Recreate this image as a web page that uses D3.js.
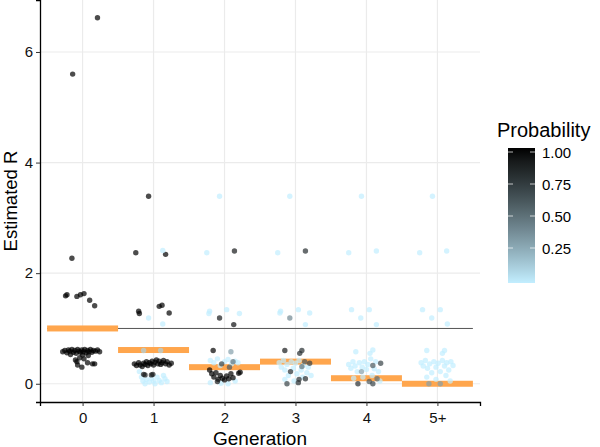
<!DOCTYPE html>
<html>
<head>
<meta charset="utf-8">
<script src="https://cdn.jsdelivr.net/npm/d3@7"></script>
<style>
  body { margin: 0; background: #fff; }
  svg { font-family: "Liberation Sans", Arial, sans-serif; }
</style>
</head>
<body>
<svg width="600" height="447"></svg>
<script>
// categories and summary values
const generations = ['0', '1', '2', '3', '4', '5+'];
const medianR = [1.0, 0.61, 0.30, 0.40, 0.10, 0.0];
const yTicks = [0, 2, 4, 6];
const legendTicks = [0.25, 0.5, 0.75, 1.0];

// points per generation: [jitter, R, probability]
const gen0Points = [
  [0.21,6.62,1],[-0.14,5.60,1],[-0.15,2.27,1],[-0.24,1.59,1],[-0.22,1.61,1],[-0.08,1.58,1],
  [-0.03,1.61,1],[0.02,1.63,1],[0.10,1.51,1],[0.17,1.41,1],
  [-0.28,0.58,1],[-0.25,0.60,1],[-0.22,0.56,1],[-0.20,0.61,1],[-0.18,0.59,1],[-0.15,0.62,1],
  [-0.13,0.57,1],[-0.11,0.60,1],[-0.09,0.55,1],[-0.07,0.62,1],[-0.05,0.59,1],[-0.03,0.57,1],
  [-0.01,0.61,1],[0.01,0.58,1],[0.03,0.62,1],[0.05,0.56,1],[0.07,0.60,1],[0.09,0.58,1],
  [0.11,0.62,1],[0.13,0.57,1],[0.15,0.60,1],[0.18,0.59,1],[0.21,0.61,1],[0.24,0.58,1],
  [-0.17,0.53,1],[0.00,0.52,1],[0.08,0.51,1],
  [-0.10,0.43,1],[-0.08,0.40,1],[-0.07,0.34,1],[-0.01,0.30,1],[0.07,0.38,1],[0.14,0.36,1],
  [0.17,0.36,1],[-0.04,0.47,1],[0.02,0.45,1]
];
const gen1Points = [
  [-0.07,3.39,1],[-0.25,2.37,1],[0.17,2.34,1],[0.13,2.41,0],[-0.21,1.31,1],[-0.20,1.27,1],
  [0.08,1.40,1],[0.12,1.42,1],[0.22,1.28,1],[-0.07,1.19,0],[0.13,1.08,0],[-0.14,0.60,0.1],[0.10,0.60,0.1],
  [-0.20,0.22,0],[-0.17,0.12,0],[-0.15,0.05,0],[-0.12,0.00,0],[-0.10,0.08,0],[-0.06,0.03,0],
  [-0.03,0.10,0],[0.00,0.05,0],[0.02,0.00,0],[0.05,0.12,0],[0.08,0.06,0],[0.11,0.02,0],
  [0.14,0.15,0],[0.16,0.09,0],[0.19,0.04,0],
  [-0.27,0.36,1],[-0.24,0.33,1],[-0.21,0.38,1],[-0.19,0.34,1],[-0.16,0.31,1],[-0.14,0.37,1],
  [-0.12,0.35,1],[-0.10,0.40,1],[-0.08,0.33,1],[-0.06,0.38,1],[-0.04,0.36,1],[-0.02,0.41,1],
  [0.00,0.34,1],[0.02,0.39,1],[0.04,0.43,1],[0.06,0.36,1],[0.08,0.41,1],[0.10,0.35,1],
  [0.12,0.38,1],[0.14,0.42,1],[0.17,0.36,1],[0.19,0.40,1],[0.22,0.34,1],[0.25,0.37,1],
  [-0.14,0.17,0.9],[-0.12,0.16,0.9],[-0.03,0.16,0.9],[-0.01,0.17,0.9]
];
const gen2Points = [
  [-0.07,3.39,0],[-0.25,2.37,0],[0.14,2.40,0.9],[-0.21,1.31,0],[-0.22,1.27,0],[0.03,1.34,0],
  [0.21,1.27,0],[-0.07,1.19,0.9],[0.13,1.07,0.95],[-0.16,0.60,1],[0.09,0.58,0.3],
  [-0.20,0.42,0],[-0.15,0.38,0],[-0.10,0.45,0],[-0.06,0.33,0],[0.00,0.40,0],[0.05,0.44,0],
  [0.10,0.36,0],[0.15,0.41,0],[0.19,0.38,0],[-0.20,0.02,0],[0.05,0.00,0],[0.15,0.05,0],[-0.05,0.01,0],
  [-0.04,0.36,0.7],[0.12,0.40,0.5],[0.07,0.30,0.6],
  [-0.21,0.25,1],[-0.18,0.18,1],[-0.15,0.12,1],[-0.12,0.20,1],[-0.09,0.08,1],[-0.06,0.15,1],
  [-0.03,0.10,1],[0.00,0.07,1],[0.03,0.14,1],[0.06,0.09,1],[0.09,0.18,1],[0.12,0.11,1],
  [0.20,0.19,1],[0.22,0.21,1],[-0.10,0.04,0.9]
];
const gen3Points = [
  [-0.08,3.39,0],[-0.25,2.37,0],[0.14,2.40,0.8],[-0.21,1.31,0],[-0.22,1.28,0],[0.04,1.34,0],
  [0.20,1.28,0],[-0.08,1.19,0.4],[0.14,1.07,0],
  [-0.23,0.38,0],[-0.20,0.30,0],[-0.17,0.42,0],[-0.15,0.25,0],[-0.12,0.35,0],[-0.10,0.15,0],
  [-0.06,0.40,0],[-0.03,0.28,0],[0.00,0.37,0],[0.02,0.18,0],[0.05,0.42,0],[0.08,0.25,0],
  [0.11,0.33,0],[0.16,0.20,0],[0.18,0.30,0],[-0.15,0.08,0],[-0.02,0.05,0],[0.10,0.12,0],[0.22,0.15,0],
  [-0.15,0.60,0.9],[0.06,0.55,0.8],[0.09,0.60,0.8],[0.13,0.40,0.6],[0.20,0.37,0.7],[0.09,0.31,0.5],
  [-0.07,0.22,0.8],[0.05,0.08,0.8],[0.14,0.09,0.8],[-0.12,0.00,0.7],[0.04,0.02,0.8]
];
const gen4Points = [
  [-0.07,3.39,0],[-0.25,2.37,0],[0.14,2.40,0],[-0.21,1.34,0],[0.04,1.34,0],[-0.08,1.19,0],
  [0.14,1.07,0],[-0.15,0.58,0],[0.05,0.55,0],[0.09,0.61,0],
  [-0.25,0.35,0],[-0.22,0.28,0],[-0.19,0.40,0],[-0.16,0.32,0],[-0.13,0.22,0],[-0.10,0.38,0],
  [-0.06,0.30,0],[-0.03,0.40,0],[0.00,0.26,0],[0.02,0.35,0],[0.06,0.45,0],[0.11,0.27,0],
  [0.13,0.40,0],[0.17,0.22,0],[-0.18,0.10,0],[-0.05,0.12,0],[0.08,0.15,0],[0.19,0.05,0],
  [0.20,0.37,0.7],[0.09,0.33,0.6],[-0.07,0.22,0.3],[-0.12,0.00,0.8],[0.04,0.04,0.6],
  [0.09,0.00,0.7],[0.15,0.09,0.5]
];
const gen5Points = [
  [-0.07,3.39,0],[-0.25,2.37,0],[0.13,2.40,0],[-0.21,1.34,0],[0.04,1.34,0],[-0.08,1.19,0],
  [0.14,1.08,0],[-0.15,0.60,0],[0.07,0.55,0],[0.10,0.60,0],
  [-0.23,0.38,0],[-0.20,0.32,0],[-0.17,0.42,0],[-0.14,0.28,0],[-0.11,0.36,0],[-0.08,0.20,0],
  [-0.05,0.40,0],[-0.02,0.30,0],[0.01,0.37,0],[0.04,0.22,0],[0.07,0.42,0],[0.10,0.32,0],
  [0.13,0.38,0],[0.16,0.25,0],[0.19,0.40,0],[0.22,0.33,0],[-0.15,0.12,0],[-0.02,0.08,0],
  [0.12,0.15,0],[0.18,0.05,0],
  [-0.12,0.00,0.3],[0.04,0.00,0.3]
];
const pointsByGeneration = [gen0Points, gen1Points, gen2Points, gen3Points, gen4Points, gen5Points];

const svg = d3.select('svg');
const margin = { top: 0, right: 120, bottom: 45, left: 40 };
const width = +svg.attr('width');
const height = +svg.attr('height');
const innerWidth = width - margin.left - margin.right;
const innerHeight = height - margin.top - margin.bottom;

const g = svg.append('g').attr('transform', `translate(${margin.left},${margin.top})`);

// ggplot style discrete axis: categories at 0..5, expanded by 0.6
const xScale = d3.scaleLinear().domain([-0.6, 5.6]).range([0, innerWidth]);
const yScale = d3.scaleLinear().domain([-0.33, 6.94]).range([innerHeight, 0]);
const colorScale = d3.scaleLinear().domain([0, 1])
  .range(['#c2eeff', '#000000']).interpolate(d3.interpolateLab);

// grid
g.selectAll('.gx').data(generations).enter().append('line')
  .attr('x1', (d, i) => xScale(i)).attr('x2', (d, i) => xScale(i))
  .attr('y1', 0).attr('y2', innerHeight)
  .attr('stroke', '#ebebeb').attr('stroke-width', 1.2);
g.selectAll('.gy').data(yTicks).enter().append('line')
  .attr('x1', 0).attr('x2', innerWidth)
  .attr('y1', d => yScale(d)).attr('y2', d => yScale(d))
  .attr('stroke', '#ebebeb').attr('stroke-width', 1.2);

// reference line at R = 1
g.append('line')
  .attr('x1', xScale(-0.5)).attr('x2', xScale(5.5))
  .attr('y1', yScale(1)).attr('y2', yScale(1))
  .attr('stroke', '#555').attr('stroke-width', 1);

// median bars
g.selectAll('.median').data(medianR).enter().append('rect')
  .attr('x', (d, i) => xScale(i - 0.5))
  .attr('width', xScale(1) - xScale(0))
  .attr('y', d => yScale(d) - 3)
  .attr('height', 6)
  .attr('fill', '#ffa64d');

// points
pointsByGeneration.forEach((pts, i) => {
  g.selectAll(`.pt${i}`).data(pts).enter().append('circle')
    .attr('cx', d => xScale(i + d[0]))
    .attr('cy', d => yScale(d[1]))
    .attr('r', 2.7)
    .attr('fill', d => colorScale(d[2]))
    .attr('fill-opacity', 0.7);
});

// axes
const yAxis = d3.axisLeft(yScale).tickValues(yTicks).tickSize(4).tickPadding(3);
const yAxisG = g.append('g').call(yAxis);
const xAxis = d3.axisBottom(xScale).tickValues(d3.range(generations.length))
  .tickFormat(i => generations[i]).tickSize(4).tickPadding(6);
const xAxisG = g.append('g').attr('transform', `translate(0,${innerHeight})`).call(xAxis);
[yAxisG, xAxisG].forEach(a => {
  a.attr('font-family', null).attr('font-size', null);
  a.select('.domain').attr('stroke', '#000').attr('stroke-width', 1.3);
  a.selectAll('.tick line').attr('stroke', '#333');
  a.selectAll('.tick text').attr('fill', '#111').style('font-size', '15px');
});

g.append('text')
  .attr('x', innerWidth / 2).attr('y', innerHeight + 43)
  .attr('text-anchor', 'middle').style('font-size', '19px')
  .text('Generation');
g.append('text')
  .attr('transform', 'rotate(-90)')
  .attr('x', -innerHeight / 2).attr('y', -23)
  .attr('text-anchor', 'middle').style('font-size', '18.5px')
  .text('Estimated R');

// legend
const legendX = 508, legendTop = 148, legendBottom = 283, barW = 27;
const defs = svg.append('defs');
const grad = defs.append('linearGradient').attr('id', 'probGrad')
  .attr('x1', 0).attr('x2', 0).attr('y1', 1).attr('y2', 0);
d3.range(0, 1.01, 0.1).forEach(t => {
  grad.append('stop').attr('offset', t).attr('stop-color', colorScale(t));
});
const legendScale = d3.scaleLinear().domain([0, 1.0]).range([legendBottom - 3, legendTop + 4]);
svg.append('text').attr('x', 497).attr('y', 137)
  .style('font-size', '20px').text('Probability');
svg.append('rect').attr('x', legendX).attr('y', legendTop)
  .attr('width', barW).attr('height', legendBottom - legendTop)
  .attr('fill', 'url(#probGrad)');
legendTicks.forEach(t => {
  const y = legendScale(t);
  svg.append('line').attr('x1', legendX).attr('x2', legendX + 5)
    .attr('y1', y).attr('y2', y).attr('stroke', '#fff').attr('stroke-opacity', 0.7);
  svg.append('line').attr('x1', legendX + barW - 5).attr('x2', legendX + barW)
    .attr('y1', y).attr('y2', y).attr('stroke', '#fff').attr('stroke-opacity', 0.7);
  svg.append('text').attr('x', legendX + barW + 7).attr('y', y + 5.5)
    .style('font-size', '15px').text(t.toFixed(2));
});
</script>
</body>
</html>
